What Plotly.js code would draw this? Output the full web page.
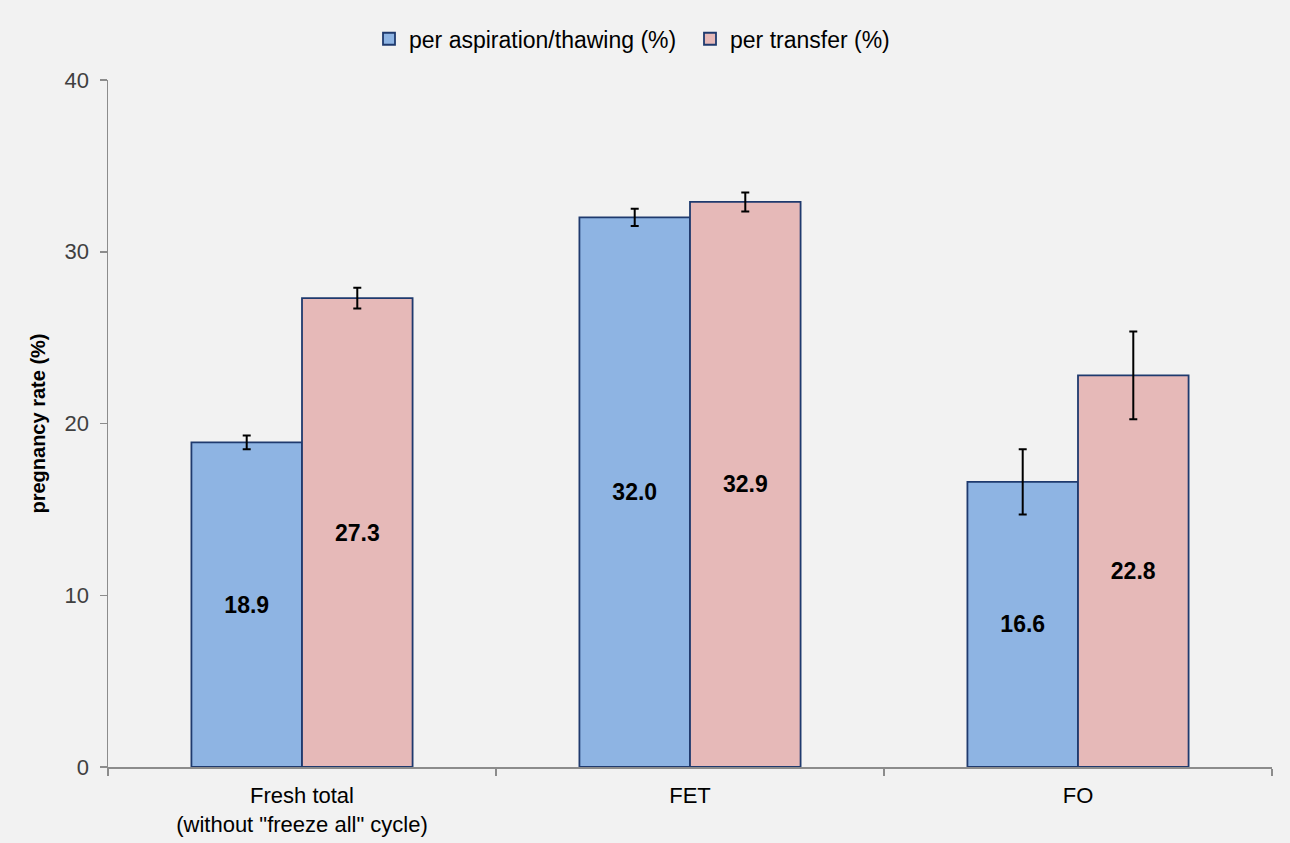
<!DOCTYPE html>
<html>
<head>
<meta charset="utf-8">
<script src="https://cdn.plot.ly/plotly-3.0.1.min.js"></script>
<style>html,body{margin:0;padding:0;background:#f2f2f2;}#chart{width:1290px;height:843px;}</style>
</head>
<body>
<div id="chart"></div>
<script>
var categories = ['Fresh total<br>(without "freeze all" cycle)', 'FET', 'FO'];
var perAspiration = [18.9, 32.0, 16.6];
var perAspirationErr = [0.4, 0.5, 1.9];
var perTransfer = [27.3, 32.9, 22.8];
var perTransferErr = [0.6, 0.55, 2.55];
var seriesNames = ['per aspiration/thawing (%)', 'per transfer (%)'];

var FONT = '"Liberation Sans", Arial, sans-serif';
var lineCol = '#1f3a6e';

function bar(name, y, err, fill) {
  return {
    type: 'bar', name: name, x: categories, y: y,
    marker: {color: fill, line: {color: lineCol, width: 1.8}},
    error_y: {type: 'data', array: err, visible: true, color: '#000', thickness: 2, width: 4},
    texttemplate: '<b>%{y:.1f}</b>', textposition: 'inside', insidetextanchor: 'middle',
    textangle: 0, constraintext: 'none',
    textfont: {family: FONT, size: 23, color: '#000'},
    hoverinfo: 'skip'
  };
}

var data = [
  bar(seriesNames[0], perAspiration, perAspirationErr, '#8eb4e3'),
  bar(seriesNames[1], perTransfer, perTransferErr, '#e6b9b8')
];

var layout = {
  width: 1290, height: 843,
  paper_bgcolor: '#f2f2f2', plot_bgcolor: '#f2f2f2',
  margin: {l: 108, r: 18, t: 80, b: 76},
  font: {family: FONT, size: 22, color: '#000'},
  barmode: 'group', bargap: 0.43, bargroupgap: 0,
  showlegend: true,
  legend: {orientation: 'h', x: 0.5, xanchor: 'center', y: 1.06, yanchor: 'middle',
           font: {family: FONT, size: 23, color: '#000'}, bgcolor: 'rgba(0,0,0,0)',
           entrywidth: 276, entrywidthmode: 'pixels', traceorder: 'normal'},
  xaxis: {
    type: 'category', showline: true, linecolor: '#8c8c8c', linewidth: 1.5,
    ticks: 'outside', tickson: 'boundaries', ticklen: 7, tickcolor: '#8c8c8c', tickwidth: 1.5,
    ticklabelstandoff: 8,
    showgrid: false, zeroline: false,
    tickfont: {family: FONT, size: 22, color: '#000'}
  },
  yaxis: {
    range: [0, 40], dtick: 10, tick0: 0,
    showline: true, linecolor: '#8c8c8c', linewidth: 1.5,
    ticks: 'outside', ticklen: 7, tickcolor: '#8c8c8c', tickwidth: 1.5,
    ticklabelstandoff: 6,
    showgrid: false, zeroline: false,
    tickfont: {family: FONT, size: 22, color: '#404040'},
    title: {text: '<b>pregnancy rate (%)</b>', font: {family: FONT, size: 20, color: '#000'}, standoff: 13}
  }
};

Plotly.newPlot('chart', data, layout, {displayModeBar: false, staticPlot: true});
</script>
</body>
</html>
